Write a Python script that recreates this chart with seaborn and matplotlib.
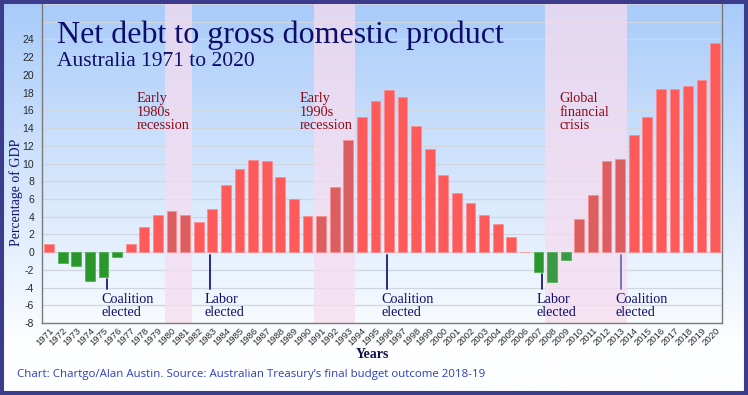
import numpy as np
import pandas as pd
import seaborn as sns
import matplotlib.pyplot as plt
from matplotlib.patches import Rectangle

# Net debt as % of GDP
years = [str(y) for y in range(1971, 2021)]
net_debt = [0.9, -1.2, -1.6, -3.2, -2.75, -0.5, 0.9, 2.85, 4.2, 4.65,
            4.2, 3.45, 4.85, 7.55, 9.4, 10.35, 10.25, 8.5, 6.05, 4.05,
            4.1, 7.35, 12.65, 15.3, 17.0, 18.3, 17.45, 14.2, 11.65, 8.75,
            6.7, 5.6, 4.25, 3.2, 1.75, 0.0, -2.2, -3.4, -0.9, 3.75,
            6.5, 10.25, 10.5, 13.25, 15.3, 18.4, 18.4, 18.7, 19.4, 23.6]

shaded_periods = [("1980", "1981"), ("1991", "1993"), ("2008", "2013")]
shaded_labels = ["Early\n1980s\nrecession", "Early\n1990s\nrecession", "Global\nfinancial\ncrisis"]

election_years = ["1975", "1983", "1996", "2007", "2013"]
election_labels = ["Coalition\nelected", "Labor\nelected", "Coalition\nelected",
                   "Labor\nelected", "Coalition\nelected"]

df = pd.DataFrame({"year": years, "debt": net_debt})

sns.set_style("white")
serif = ["Liberation Serif", "DejaVu Serif"]
plt.rcParams["font.family"] = ["Liberation Sans", "DejaVu Sans"]

fig = plt.figure(figsize=(7.48, 3.95), dpi=100)

# gradient background for the whole figure
bg = fig.add_axes([0, 0, 1, 1], zorder=-10)
bg.axis("off")
top = np.array([168, 203, 250]) / 255
bot = np.array([253, 254, 255]) / 255
t = np.clip(np.linspace(0, 1.15, 300), 0, 1)[:, None]
grad = top[None, :] * (1 - t) + bot[None, :] * t
bg.imshow(grad[:, None, :], aspect="auto", extent=[0, 1, 0, 1])

ax = fig.add_axes([0.0567, 0.182, 0.9085, 0.808])
ax.patch.set_alpha(0)

def in_band(y):
    return any(a <= y <= b for a, b in shaded_periods)

colors = []
for y, v in zip(years, net_debt):
    if v < 0:
        colors.append("#3a9a44" if in_band(y) else "#2b962b")
    else:
        colors.append("#db5e60" if in_band(y) else "#ff5a5a")

sns.barplot(data=df, x="year", y="debt", hue="year", palette=colors, legend=False,
            saturation=1, width=0.72, edgecolor="#ff8a8a", linewidth=0.5, ax=ax, zorder=3)
for bar, v in zip(ax.patches, net_debt):
    if v < 0:
        bar.set_edgecolor("#45b045")

# shaded periods
for (a, b), lab in zip(shaded_periods, shaded_labels):
    i0, i1 = years.index(a), years.index(b)
    ax.axvspan(i0 - 0.5, i1 + 0.5, color="#f6dcef", alpha=0.75, zorder=1, lw=0)

label_x = [6.46, 18.4, 37.54]
for x, lab in zip(label_x, shaded_labels):
    ax.text(x, 18.1, lab, family=serif, fontsize=10.3, color="#8b0a1a",
            va="top", ha="left", linespacing=1.08, zorder=5)

# election markers
offsets = [0.25, -0.15, -0.15, 0.25, 0.1]
for y, lab, off in zip(election_years, election_labels, offsets):
    i = years.index(y)
    v = net_debt[i]
    start = (v - 0.25) if v < 0 else -0.3
    lc = "#6a6ab8" if y == "2013" else "#1a1a80"
    ax.plot([i + off, i + off], [start, -4.2], color=lc, lw=1.3, zorder=4)
    ax.text(i + off - 0.42, -4.6, lab, family=serif, fontsize=10.2, color="#10106e",
            va="top", ha="left", linespacing=1.05, zorder=5)

ax.set_xlim(-0.5, len(years) - 0.5)
ax.set_ylim(-8, 28)
ticks = list(range(-8, 29, 2))
ax.set_yticks(ticks)
ax.set_yticklabels([str(v) if v <= 24 else "" for v in ticks])
ax.yaxis.grid(True, color="#cfd6df", lw=0.9, zorder=0)
ax.set_axisbelow(True)
ax.tick_params(axis="y", length=0, pad=6, labelsize=7.5, labelcolor="#2a2a2a")
ax.tick_params(axis="x", length=0, pad=2, labelsize=6.8, labelcolor="#2a2a2a")
plt.setp(ax.get_xticklabels(), rotation=45, ha="right", rotation_mode="anchor")

for s in ["left", "right", "bottom"]:
    ax.spines[s].set_color("#7a7a7a")
    ax.spines[s].set_linewidth(1.0)
ax.spines["top"].set_visible(False)

ax.set_xlabel("")
ax.set_ylabel("Percentage of GDP", family=serif, fontsize=10, color="#10106e")
ax.yaxis.set_label_coords(-0.029, 0.41)

fig.text(372 / 748, 1 - 355 / 395, "Years", family=serif, fontsize=10, weight="bold",
         color="#10104e", ha="center", va="center")

fig.text(57 / 748, 1 - 43 / 395, "Net debt to gross domestic product", family=serif,
         fontsize=23, color="#0d0d6b", va="baseline", ha="left")
fig.text(57 / 748, 1 - 66.5 / 395, "Australia 1971 to 2020", family=serif,
         fontsize=15.5, color="#0d0d6b", va="baseline", ha="left")

fig.text(17 / 748, 1 - 375 / 395,
         "Chart: Chartgo/Alan Austin. Source: Australian Treasury\u2019s final budget outcome 2018-19",
         family=["Open Sans", "DejaVu Sans"], fontsize=8.25, color="#2f3fc0", va="center", ha="left")

fig.patches.append(Rectangle((0, 0), 1, 1, transform=fig.transFigure, fill=False,
                             edgecolor="#3c3c8c", linewidth=5.8, zorder=20))

plt.savefig("out.png", dpi=100)
